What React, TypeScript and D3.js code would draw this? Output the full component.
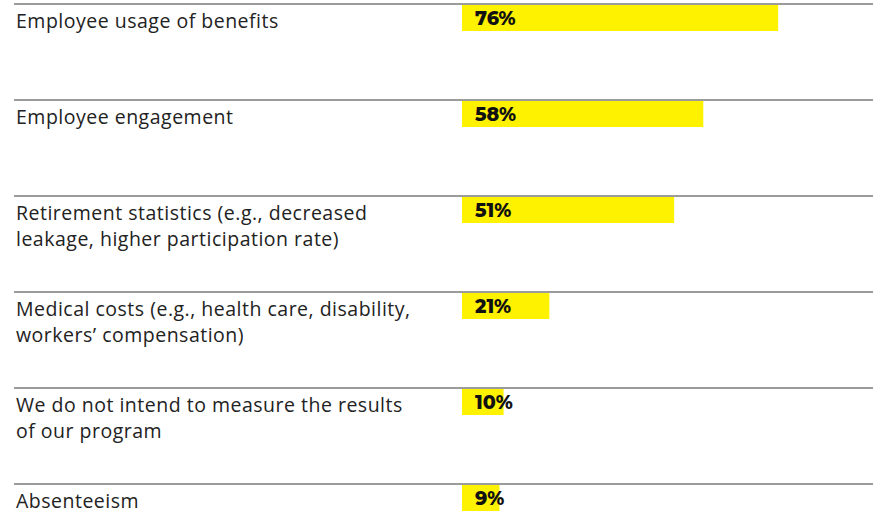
import React, { useEffect, useRef } from 'react';
import * as d3 from 'd3';

// rows of the chart, top to bottom
const categories = [
  'Employee usage of benefits',
  'Employee engagement',
  'Retirement statistics (e.g., decreased leakage, higher participation rate)',
  'Medical costs (e.g., health care, disability, workers\u2019 compensation)',
  'We do not intend to measure the results of our program',
  'Absenteeism',
];
const labelLines = [
  ['Employee usage of benefits'],
  ['Employee engagement'],
  ['Retirement statistics (e.g., decreased', 'leakage, higher participation rate)'],
  ['Medical costs (e.g., health care, disability,', 'workers\u2019 compensation)'],
  ['We do not intend to measure the results', 'of our program'],
  ['Absenteeism'],
];
const values = [76, 58, 51, 21, 10, 9];

const W = 873;
const H = 512;

export default function App() {
  const ref = useRef<SVGSVGElement>(null);

  useEffect(() => {
    const svg = d3.select(ref.current);
    svg.selectAll('*').remove();

    const y = d3.scaleBand<string>()
      .domain(categories)
      .range([4, 4 + 96 * categories.length])
      .padding(0);

    const x = d3.scaleLinear()
      .domain([0, 100])
      .range([462, 878]);

    const rows = svg.selectAll('.row')
      .data(categories)
      .join('g')
      .attr('class', 'row')
      .attr('transform', d => `translate(0, ${y(d)})`);

    rows.append('line')
      .attr('x1', 14)
      .attr('x2', W)
      .attr('y1', 0)
      .attr('y2', 0)
      .attr('stroke', '#7a7a7a')
      .attr('stroke-width', 1.4);

    rows.append('rect')
      .attr('x', x(0))
      .attr('y', 1)
      .attr('width', (d, i) => x(values[i]) - x(0))
      .attr('height', 26)
      .attr('fill', '#fff200');

    rows.append('text')
      .attr('x', 475)
      .attr('y', 21)
      .attr('font-family', 'Montserrat, "Noto Sans", sans-serif')
      .attr('font-weight', 800)
      .attr('font-size', 19)
      .attr('fill', '#111')
      .text((d, i) => values[i] + '%');

    const labels = rows.append('text')
      .attr('font-family', '"Open Sans", sans-serif')
      .attr('font-size', 19.5)
      .attr('letter-spacing', 0.5)
      .attr('fill', '#222');

    labels.selectAll('tspan')
      .data((d, i) => labelLines[i])
      .join('tspan')
      .attr('x', 16)
      .attr('y', (d, j) => 24 + j * 26)
      .text(d => d);
  }, []);

  return (
    <svg
      ref={ref}
      width={W}
      height={H}
      style={{ position: 'absolute', left: 0, top: 0, background: '#fff' }}
    />
  );
}
